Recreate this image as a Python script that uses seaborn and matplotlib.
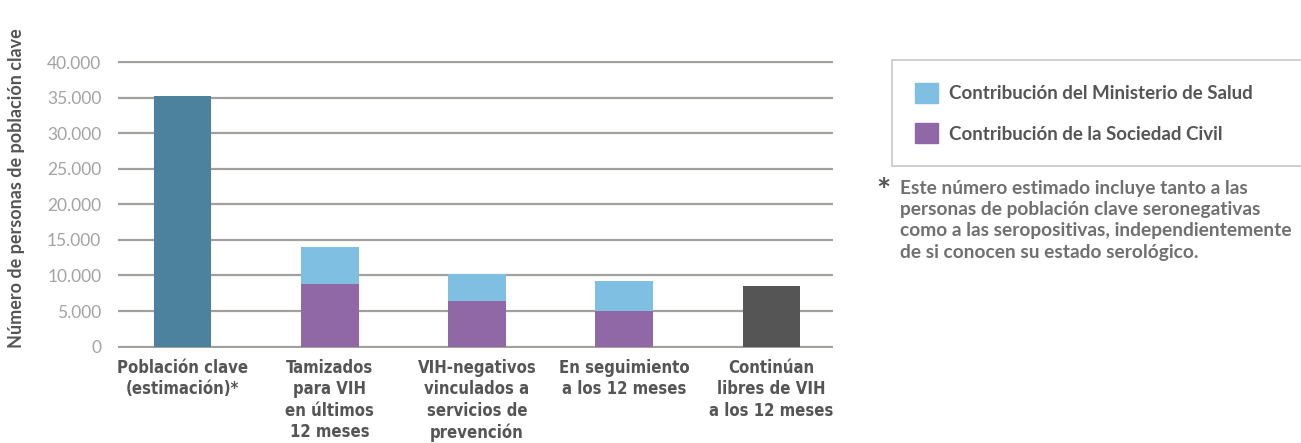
import pandas as pd
import numpy as np
import seaborn as sns
import matplotlib.pyplot as plt
from matplotlib.patches import Patch
from matplotlib.lines import Line2D

# Datos
etapas = [
    "Población clave\n(estimación)*",
    "Tamizados\npara VIH\nen últimos\n12 meses",
    "VIH-negativos\nvinculados a\nservicios de\nprevención",
    "En seguimiento\na los 12 meses",
    "Continúan\nlibres de VIH\na los 12 meses",
]
total = [35200, 14000, 10200, 9200, 8500]
sociedad_civil = [0, 8800, 6400, 5000, 0]
tipo = ["estimacion", "ministerio", "ministerio", "ministerio", "libres"]
yticks = [0, 5000, 10000, 15000, 20000, 25000, 30000, 35000, 40000]
ytick_labels = ["0", "5.000", "10.000", "15.000", "20.000", "25.000", "30.000", "35.000", "40.000"]

colores = {"estimacion": "#4d829f", "ministerio": "#7fc0e2", "libres": "#555555"}
morado = "#9168a6"
gris_texto = "#555555"

df = pd.DataFrame({"etapa": etapas, "total": total, "civil": sociedad_civil, "tipo": tipo})

sns.set_theme(style="white")
plt.rcParams["font.family"] = ["Lato", "DejaVu Sans"]

fig = plt.figure(figsize=(13.01, 4.43), dpi=100)
ax = fig.add_axes([118 / 1301, 1 - 347.7 / 443, (833 - 118) / 1301, (347.7 - 61) / 443])

# barras totales (contribución del ministerio encima)
sns.barplot(data=df, x="etapa", y="total", hue="tipo", palette=colores, order=etapas,
            width=0.39, dodge=False, legend=False, ax=ax, saturation=1, linewidth=0)
# parte de la sociedad civil
sns.barplot(data=df, x="etapa", y="civil", color=morado, order=etapas,
            width=0.39, ax=ax, saturation=1, linewidth=0)

ax.set_xlim(-0.44, 4.42)
ax.set_ylim(-150, 40150)
ax.set_yticks(yticks)
ax.set_yticklabels(ytick_labels)
ax.yaxis.grid(True, color="#a0a09c", linewidth=1.6)
ax.set_axisbelow(True)
for s in ax.spines.values():
    s.set_visible(False)
ax.tick_params(axis="y", length=0, pad=12, labelsize=12.5, labelcolor="#a3a3a3")
ax.tick_params(axis="x", length=0, pad=8)
ax.set_xticks(range(len(etapas)))
ax.set_xticklabels(etapas, fontsize=12, fontweight="bold", color=gris_texto,
                   family="DejaVu Sans", fontstretch="condensed", linespacing=1.25,
                   va="top")
ax.set_xlabel("")
ax.set_ylabel("")

fig.text(17 / 1301, 1 - 188 / 443, "Número de personas de población clave", rotation=90,
         ha="center", va="center", fontsize=13, fontweight="bold", color=gris_texto)

# recuadro de la leyenda
caja = dict(color="#c8c8c8", linewidth=1.2, transform=fig.transFigure)
fig.add_artist(Line2D([892 / 1301, 1.0], [1 - 60 / 443, 1 - 60 / 443], **caja))
fig.add_artist(Line2D([892 / 1301, 1.0], [1 - 166 / 443, 1 - 166 / 443], **caja))
fig.add_artist(Line2D([892 / 1301, 892 / 1301], [1 - 60 / 443, 1 - 166 / 443], **caja))

handles = [Patch(color="#7fc0e2", label="Contribución del Ministerio de Salud"),
           Patch(color=morado, label="Contribución de la Sociedad Civil")]
leg = fig.legend(handles=handles, loc="upper left", bbox_to_anchor=(898 / 1301, 1 - 66 / 443),
                 frameon=False, handlelength=1.25, handleheight=1.25, handletextpad=0.55,
                 labelspacing=1.1, prop={"size": 13.5, "weight": "bold"})
for t in leg.get_texts():
    t.set_color(gris_texto)

fig.text(876 / 1301, 1 - 192 / 443, "*", fontsize=24, fontweight="bold", color=gris_texto,
         ha="left", va="center")
nota = ("Este número estimado incluye tanto a las\n"
        "personas de población clave seronegativas\n"
        "como a las seropositivas, independientemente\n"
        "de si conocen su estado serológico.")
fig.text(900 / 1301, 1 - 180 / 443, nota, fontsize=13.8, fontweight="bold", color="#707070",
         ha="left", va="top", linespacing=1.3)

fig.savefig("out.png", dpi=100)
